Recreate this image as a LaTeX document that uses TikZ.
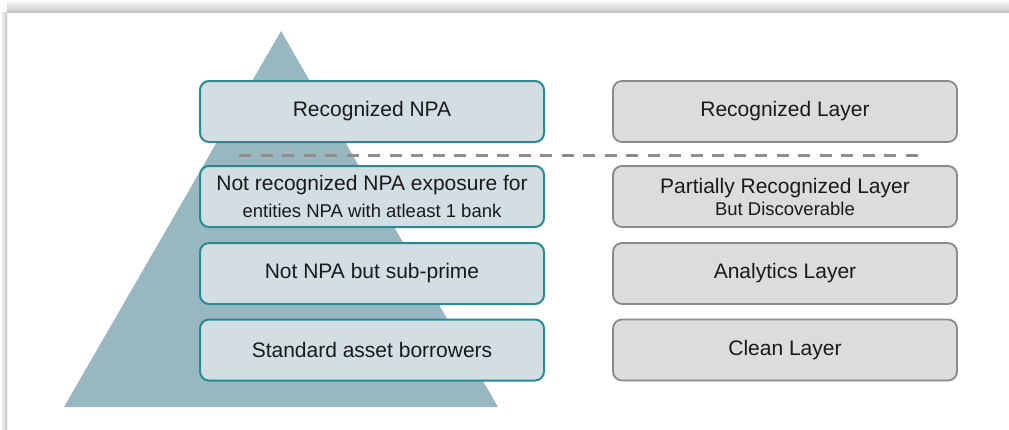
\documentclass[tikz,border=0pt]{standalone}
\usepackage{fontspec}
\setmainfont{Liberation Sans}

\definecolor{pyramidfill}{HTML}{97B8C0}
\definecolor{npafill}{HTML}{D3DEE2}
\definecolor{npaedge}{HTML}{2A8A94}
\definecolor{layerfill}{HTML}{DCDCDE}
\definecolor{layeredge}{HTML}{8A8A8A}
\definecolor{sepgray}{HTML}{8E8E8E}
\definecolor{shadowgray}{HTML}{C4C4C4}
\definecolor{txt}{HTML}{1A1A1A}

\newcommand{\subtext}[1]{{\fontsize{18.5}{22}\selectfont #1}}

\begin{document}
\begin{tikzpicture}[x=1pt, y=-1pt,
  npabox/.style={draw=npaedge, line width=2pt, fill=npafill, rounded corners=9pt,
    minimum width=344pt, minimum height=61pt, inner sep=0pt, text=txt,
    align=center, font=\fontsize{21}{27}\selectfont},
  layerbox/.style={npabox, draw=layeredge, line width=1.8pt, fill=layerfill}]
\useasboundingbox (0,0) rectangle (1009,429);

% Panel with shadow
\fill[white] (0,0) rectangle (1009,429);
\shade[top color=white, bottom color=shadowgray] (7,0) rectangle (1009,12);
\shade[left color=white, right color=shadowgray] (0,12) rectangle (7,429);

% Pyramid
\fill[pyramidfill] (281,31) -- (64,407) -- (498,407) -- cycle;

% NPA classes
\node[npabox] (recnpa) at (372,111.5) {Recognized NPA};
\node[npabox] (notrec) at (372,196.5) {Not recognized NPA exposure for\\ \subtext{entities NPA with atleast 1 bank}};
\node[npabox] (subprime) at (372,273.5) {Not NPA but sub-prime};
\node[npabox] (standard) at (372,350) {Standard asset borrowers};

% Layers
\node[layerbox] (reclayer) at (785,111.5) {Recognized Layer};
\node[layerbox, font=\fontsize{21}{22}\selectfont] (partlayer) at (785,196.5) {Partially Recognized Layer\\ \subtext{But Discoverable}};
\node[layerbox] (analytics) at (785,273.5) {Analytics Layer};
\node[layerbox] (clean) at (785,350) {Clean Layer};

% Separator
\coordinate (sepL) at (239,155);
\coordinate (sepR) at (918,155);
\draw[sepgray, line width=3pt, dash pattern=on 12pt off 9.5pt] (sepL) -- (sepR);
\end{tikzpicture}
\end{document}
